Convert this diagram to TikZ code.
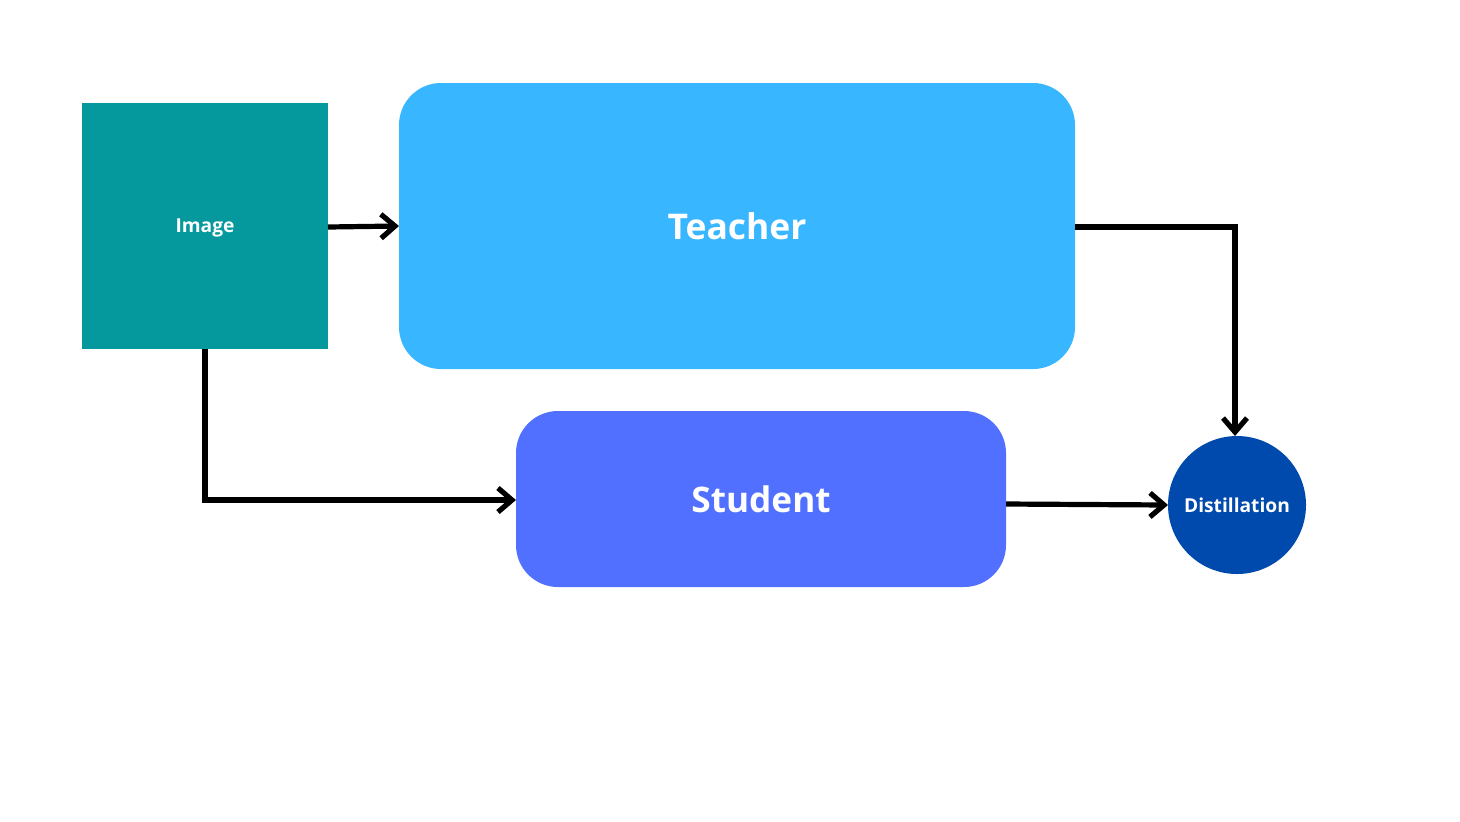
\documentclass[tikz,border=0pt]{standalone}
\usepackage{fontspec}
\setmainfont{Open Sans}
\usetikzlibrary{arrows.meta}
\definecolor{imgteal}{HTML}{05999E}
\definecolor{teachblue}{HTML}{38B6FF}
\definecolor{studblue}{HTML}{5170FF}
\definecolor{distblue}{HTML}{004AAD}
\begin{document}
\begin{tikzpicture}[x=0.5pt,y=-0.5pt,
  box/.style={inner sep=0pt, outer sep=0pt, text=white, font=\bfseries},
  flow/.style={line width=2.6pt, line cap=butt, line join=miter,
    -{Straight Barb[length=7pt,width=12pt,line width=2.6pt]}}]
  \useasboundingbox[fill=white] (0,0) rectangle (1460,821);
  % blocks
  \node[box, fill=imgteal, minimum width=123pt, minimum height=123pt, text depth=0pt,
        font=\bfseries\fontsize{9.6}{12}\selectfont] (img) at (205,225.5) {Image};
  \node[box, fill=teachblue, rounded corners=21pt, minimum width=338pt, minimum height=143pt,
        font=\bfseries\fontsize{17.7}{20}\selectfont] (teach) at (737,226) {Teacher};
  \node[box, fill=studblue, rounded corners=21pt, minimum width=245pt, minimum height=88pt,
        font=\bfseries\fontsize{17.6}{20}\selectfont] (stud) at (761,499) {Student};
  \node[box, fill=distblue, circle, minimum size=69pt,
        font=\bfseries\fontsize{9.6}{12}\selectfont] (dist) at (1237,505) {Distillation};
  % connectors
  \draw[flow] (img.east |- 0,227) -- (teach.west |- 0,226);
  \draw[flow] (img.south) |- (stud.west |- 0,500);
  \draw[flow] (teach.east |- 0,227) -| (dist.north -| 1235,0);
  \draw[flow] (stud.east |- 0,504) -- (dist.west |- 0,505);
\end{tikzpicture}
\end{document}
